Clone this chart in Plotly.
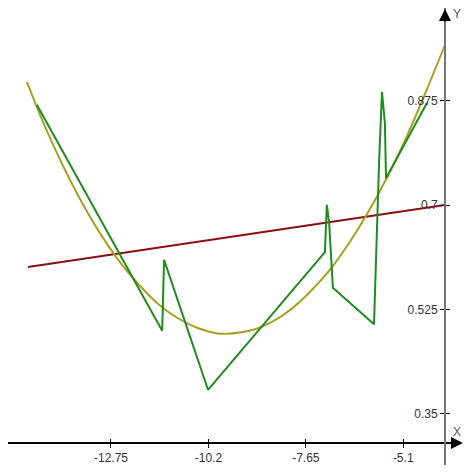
import plotly.graph_objects as go

# Green polyline
green_x = [-14.69, -11.41, -11.36, -10.21, -7.15, -7.10, -7.04, -6.94, -5.865, -5.80, -5.73, -5.656, -5.58, -5.55, -4.48]
green_y = [0.868, 0.489, 0.608, 0.390, 0.621, 0.700, 0.671, 0.561, 0.500, 0.640, 0.775, 0.890, 0.838, 0.745, 0.871]

# Olive curve (read at sample x positions)
olive_x = [-14.95, -14.5, -14.0, -13.5, -13.0, -12.5, -12.0, -11.5, -11.0, -10.5, -10.0, -9.69, -9.0, -8.5, -8.0, -7.5, -7.0, -6.5, -6.0, -5.5, -5.0, -4.5, -4.01]
olive_y = [0.906, 0.835, 0.765, 0.703, 0.649, 0.603, 0.565, 0.533, 0.510, 0.494, 0.485, 0.484, 0.491, 0.505, 0.527, 0.557, 0.593, 0.638, 0.690, 0.749, 0.816, 0.891, 0.968]

# Dark red straight line
red_x = [-14.92, -4.01]
red_y = [0.596, 0.700]

x_ticks = [-12.75, -10.2, -7.65, -5.1]
x_labels = ["-12.75", "-10.2", "-7.65", "-5.1"]
y_ticks = [0.35, 0.525, 0.7, 0.875]
y_labels = ["0.35", "0.525", "0.7", "0.875"]

# The page body has an 8px margin, so figure coordinates = screen - 8
OFF = 8
W, H = 465, 464

def fx(s):  # screen x -> paper fraction
    return (s - OFF) / W

def fy(s):  # screen y -> paper fraction
    return (H - (s - OFF)) / H

XR = [-15.446, -3.666]
YR = [0.2638, 1.0305]
XD = [fx(8), fx(458)]
YD = [fy(465), fy(8)]

fig = go.Figure()
fig.add_trace(go.Scatter(x=red_x, y=red_y, mode="lines", line=dict(color="#8c0f0f", width=2), hoverinfo="skip"))
fig.add_trace(go.Scatter(x=olive_x, y=olive_y, mode="lines", line=dict(color="#a8a020", width=2, shape="spline"), hoverinfo="skip"))
fig.add_trace(go.Scatter(x=green_x, y=green_y, mode="lines", line=dict(color="#1e8c1e", width=2), hoverinfo="skip"))

font = dict(family="Liberation Sans, Arial, sans-serif", size=12, color="#333333")
lfont = dict(family="Liberation Sans, Arial, sans-serif", size=12, color="#555555")

common = dict(showgrid=False, zeroline=False, tickcolor="black", tickwidth=1, ticklen=4)

fig.update_layout(
    width=W, height=H,
    margin=dict(l=0, r=0, t=0, b=0),
    paper_bgcolor="white", plot_bgcolor="white",
    showlegend=False,
    xaxis=dict(
        domain=XD, range=XR, anchor="free", position=fy(443),
        showline=True, linecolor="black", linewidth=2,
        ticks="outside", tickvals=x_ticks, ticktext=x_labels, tickfont=font, **common,
    ),
    xaxis2=dict(
        domain=XD, range=XR, anchor="free", position=fy(443), overlaying="x",
        showline=False, ticks="inside", tickvals=x_ticks, showticklabels=False, **common,
    ),
    yaxis=dict(
        domain=YD, range=YR, anchor="free", position=fx(445), side="left",
        showline=True, linecolor="#777777", linewidth=2,
        ticks="outside", tickvals=y_ticks, ticktext=y_labels, tickfont=font, **common,
    ),
    yaxis2=dict(
        domain=YD, range=YR, anchor="free", position=fx(445), side="left", overlaying="y",
        showline=False, ticks="inside", tickvals=y_ticks, showticklabels=False, **common,
    ),
    annotations=[
        dict(xref="paper", yref="paper", x=fx(463), y=fy(443), ax=-14, ay=0,
             showarrow=True, arrowhead=2, arrowsize=1.2, arrowwidth=2, arrowcolor="black", text=""),
        dict(xref="paper", yref="paper", x=fx(445), y=fy(9), ax=0, ay=14,
             showarrow=True, arrowhead=2, arrowsize=1.2, arrowwidth=2, arrowcolor="black", text=""),
        dict(xref="paper", yref="paper", x=fx(452), y=fy(432), text="X", showarrow=False,
             xanchor="left", yanchor="middle", borderpad=0, font=lfont),
        dict(xref="paper", yref="paper", x=fx(452), y=fy(14), text="Y", showarrow=False,
             xanchor="left", yanchor="middle", borderpad=0, font=lfont),
    ],
)
# invisible trace so the overlay axes are drawn
fig.add_trace(go.Scatter(x=[XR[0]], y=[YR[0]], xaxis="x2", yaxis="y2", mode="markers",
                         marker=dict(opacity=0), hoverinfo="skip"))

fig.write_html("out.html")
